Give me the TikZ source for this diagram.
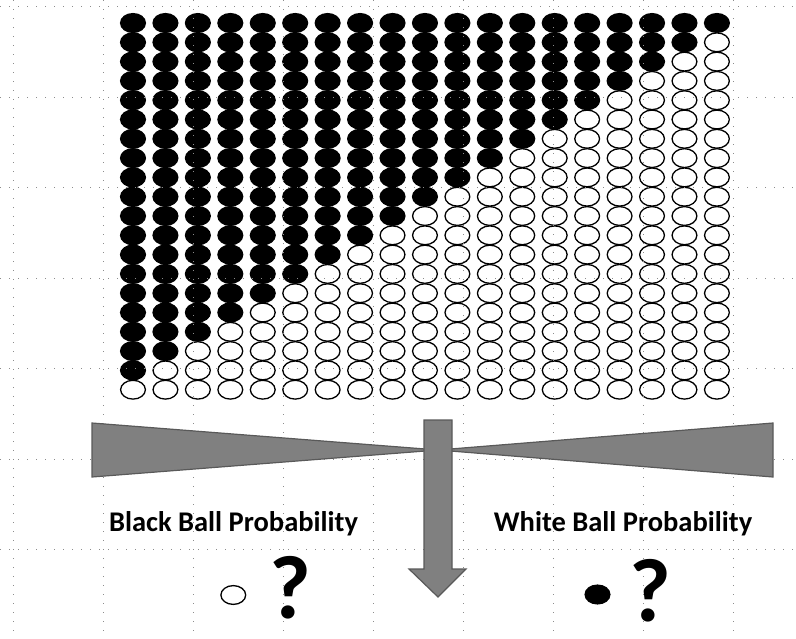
\documentclass[tikz,border=0pt]{standalone}
\usepackage{fontspec}
\setmainfont{Carlito}
\begin{document}
\begin{tikzpicture}[x=1pt, y=-1pt,
        bola/.style={draw=black, line width=1.3pt, fill=white},
        bolanegra/.style={draw=black, line width=1.3pt, fill=black},
        rejilla/.style={black!45, line width=0.9pt, dash pattern=on 0.9pt off 8.1pt},
        forma/.style={draw=black!65, line width=1.2pt, fill=gray},
        texto/.style={font=\fontsize{28.5}{34}\selectfont\bfseries, inner sep=0pt},
        interroga/.style={font=\fontsize{90}{100}\selectfont\bfseries, inner sep=0pt}]
        \useasboundingbox (0,0) rectangle (796,638);
        % Urnas: la columna \i tiene 19-\i bolas negras
        \foreach \i in {0,...,18}{
            \foreach \j in {0,...,19}{
                \pgfmathsetmacro{\cx}{133+32.44*\i}
                \pgfmathsetmacro{\cy}{23+19.3*\j}
                \ifnum\j<\numexpr19-\i\relax
                    \draw[bolanegra] (\cx,\cy) ellipse (12.4 and 9.4);
                \else
                    \draw[bola] (\cx,\cy) ellipse (12.4 and 9.4);
                \fi
            }
        }
        
        % Rejilla de fondo
        \foreach \x in {13,103,...,733}
            \draw[rejilla] (\x,0) -- (\x,638);
        \foreach \y in {6.5,97,...,549.5}
            \draw[rejilla] (0,\y) -- (796,\y);
        
        % Balanza y flecha
        \draw[forma] (92,423) -- (92,477) -- (438,450) -- cycle;
        \draw[forma] (773,423) -- (773,477) -- (438,450) -- cycle;
        \draw[forma] (424,420) -- (452,420) -- (452,569) -- (466,569)
            -- (438,597) -- (409,569) -- (424,569) -- cycle;
        
        % Probabilidades
        \node[texto, anchor=base] (negra) at (233.5,531.5) {Black Ball Probability};
        \node[texto, anchor=base] (blanca) at (623,531.5) {White Ball Probability};
        \draw[bola] (233.3,595) ellipse (12.4 and 9.4);
        \node[interroga, anchor=base] (preg1) at (290.7,618) {?};
        \draw[bolanegra] (597.5,594.5) ellipse (12.4 and 9.4);
        \node[interroga, anchor=base] (preg2) at (650.5,621.5) {?};
    \end{tikzpicture}
\end{document}
